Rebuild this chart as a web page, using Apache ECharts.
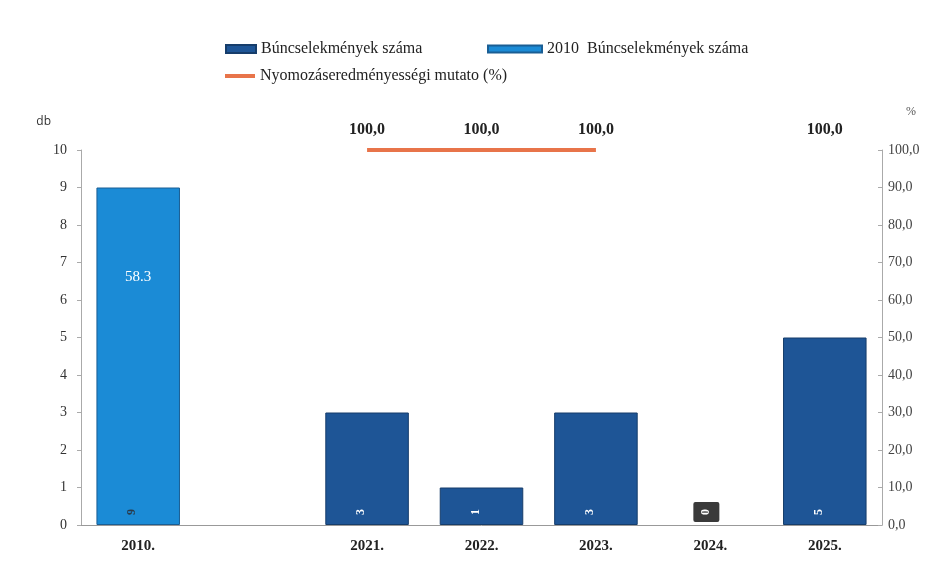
<!DOCTYPE html>
<html>
<head>
<meta charset="utf-8">
<script src="https://cdn.jsdelivr.net/npm/echarts@6/dist/echarts.min.js"></script>
<style>html,body{margin:0;padding:0;background:#fff}#c{width:926px;height:577px}</style>
</head>
<body>
<div id="c"></div>
<script>
const categories = ['2010.', '', '2021.', '2022.', '2023.', '2024.', '2025.'];
const crimes = [null, null, 3, 1, 3, 0, 5];
const crimes2010 = [9, null, null, null, null, null, null];
const rate = [58.3, null, 100, 100, 100, null, 100];
const seriesNames = ['Búncselekmények száma', '2010  Búncselekmények száma', 'Nyomozáseredményességi mutato (%)'];

const serif = '"Liberation Serif", "DejaVu Serif", serif';
const chart = echarts.init(document.getElementById('c'));
const valLabel = {
  show: true, position: 'insideBottom', distance: 13, rotate: 90,
  color: '#fff', fontSize: 12, fontFamily: serif, fontWeight: 'bold',
  formatter: p => p.value == null ? '' : String(p.value)
};
const legText = {fontFamily: serif, fontSize: 16, color: '#222'};
chart.setOption({
  backgroundColor: '#fff',
  animation: false,
  legend: [
    {data: [seriesNames[0]], left: 220, top: 36, itemWidth: 30, itemHeight: 8, icon: 'rect', textStyle: legText},
    {data: [seriesNames[1]], left: 482, top: 36, itemWidth: 54, itemHeight: 7, icon: 'rect', textStyle: legText},
    {data: [{name: seriesNames[2], itemStyle: {color: '#e8744a', opacity: 1}}], left: 220, top: 63, itemWidth: 30, itemHeight: 4, icon: 'rect', textStyle: legText}
  ],
  grid: {left: 81, right: 44, top: 150, bottom: 52},
  xAxis: {
    type: 'category', data: categories,
    axisLine: {lineStyle: {color: '#999'}}, axisTick: {show: false},
    axisLabel: {fontFamily: serif, fontSize: 15, fontWeight: 'bold', color: '#222', margin: 14}
  },
  yAxis: [
    {type: 'value', min: 0, max: 10, interval: 1, name: 'db',
     nameLocation: 'end', nameGap: 22,
     nameTextStyle: {fontFamily: 'Open Sans, sans-serif', fontSize: 12, color: '#333', align: 'right', padding: [0, 30, 0, 0]},
     axisLine: {show: true, lineStyle: {color: '#aaa'}}, axisTick: {show: true, length: 4, lineStyle: {color: '#aaa'}},
     splitLine: {show: false},
     axisLabel: {fontFamily: serif, fontSize: 14, color: '#333', margin: 14}},
    {type: 'value', min: 0, max: 100, interval: 10, name: '%', position: 'right',
     nameLocation: 'end', nameGap: 32,
     nameTextStyle: {fontFamily: serif, fontSize: 12, color: '#555', align: 'left', padding: [0, 0, 0, 24]},
     axisLine: {show: true, lineStyle: {color: '#aaa'}}, axisTick: {show: true, inside: true, length: 4, lineStyle: {color: '#aaa'}},
     splitLine: {show: false},
     axisLabel: {fontFamily: serif, fontSize: 14, color: '#444', margin: 6,
       formatter: v => v.toFixed(1).replace('.', ',')}}
  ],
  series: [
    {name: seriesNames[0], type: 'bar',
     data: crimes.map(v => v === 0 ? {value: 0, itemStyle: {borderWidth: 0},
        label: {backgroundColor: '#3a3a3a', padding: [7, 7], borderRadius: 2, distance: 6, offset: [7, 9]}} : v),
     barWidth: '73%', barGap: '-100%',
     itemStyle: {color: '#1e5596', borderColor: '#163d6b', borderWidth: 1},
     label: valLabel},
    {name: seriesNames[1], type: 'bar', data: crimes2010, barWidth: '73%', barGap: '-100%',
     itemStyle: {color: '#1b8bd6', borderColor: '#1a5e94', borderWidth: 1},
     label: Object.assign({}, valLabel, {color: '#2a3a4a'})},
    {name: seriesNames[2], type: 'line', yAxisIndex: 1,
     data: rate.map((v, i) => i === 0 && v != null ? {
        value: v, label: {color: '#fff', fontWeight: 'normal', fontSize: 15, distance: 22,
          formatter: p => String(p.value)}} : v),
     connectNulls: false, showSymbol: true, symbol: 'circle', symbolSize: 0,
     lineStyle: {color: '#e8744a', width: 4}, itemStyle: {color: '#e8744a'},
     label: {show: true, position: 'top', distance: 12, fontFamily: serif, fontSize: 16, fontWeight: 'bold', color: '#222',
       formatter: p => p.value == null ? '' : Number(p.value).toFixed(1).replace('.', ',')}}
  ]
});
</script>
</body>
</html>
